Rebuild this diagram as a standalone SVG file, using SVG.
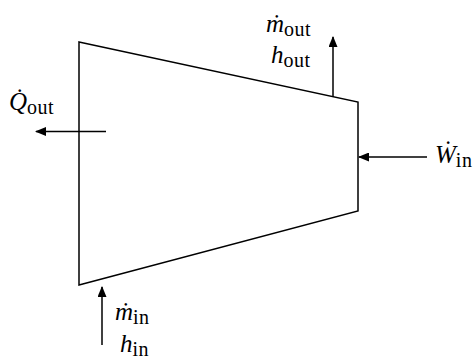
<svg xmlns="http://www.w3.org/2000/svg" width="475" height="363" viewBox="0 0 475 363">
<defs>
<marker id="ah" markerWidth="11" markerHeight="9" refX="10" refY="4.5" orient="auto" markerUnits="userSpaceOnUse">
<path d="M0,0 L11,4.5 L0,9 Z" fill="#000"/>
</marker>
<style>
.ln{stroke:#000;stroke-width:1.5;fill:none}
.v{font-family:"Liberation Serif",serif;font-style:italic;font-size:25px;fill:#000}
.s{font-family:"Liberation Serif",serif;font-style:normal;font-size:20px;letter-spacing:0.5px}
</style>
</defs>
<rect width="475" height="363" fill="#fff"/>
<g id="turbine">
<path class="ln" d="M79,42 L358,102 L358,211 L79,285 Z"/>
</g>
<g id="connectors">
<line class="ln" x1="106" y1="131.5" x2="36" y2="131.5" marker-end="url(#ah)"/>
<line class="ln" x1="333" y1="97" x2="333" y2="37" marker-end="url(#ah)"/>
<line class="ln" x1="427" y1="157" x2="359" y2="157" marker-end="url(#ah)"/>
<line class="ln" x1="102" y1="345" x2="102" y2="287" marker-end="url(#ah)"/>
</g>
<g id="label-qout">
<text class="v" x="9" y="110">Q̇<tspan class="s" dy="4">out</tspan></text>
</g>
<g id="label-out">
<text class="v" x="266" y="32">ṁ<tspan class="s" dy="4">out</tspan></text>
<text class="v" x="271" y="63">h<tspan class="s" dy="4">out</tspan></text>
</g>
<g id="label-win">
<text class="v" x="435" y="163">Ẇ<tspan class="s" dy="4">in</tspan></text>
</g>
<g id="label-in">
<text class="v" x="115" y="320">ṁ<tspan class="s" dy="4">in</tspan></text>
<text class="v" x="120" y="352">h<tspan class="s" dy="4">in</tspan></text>
</g>
</svg>
